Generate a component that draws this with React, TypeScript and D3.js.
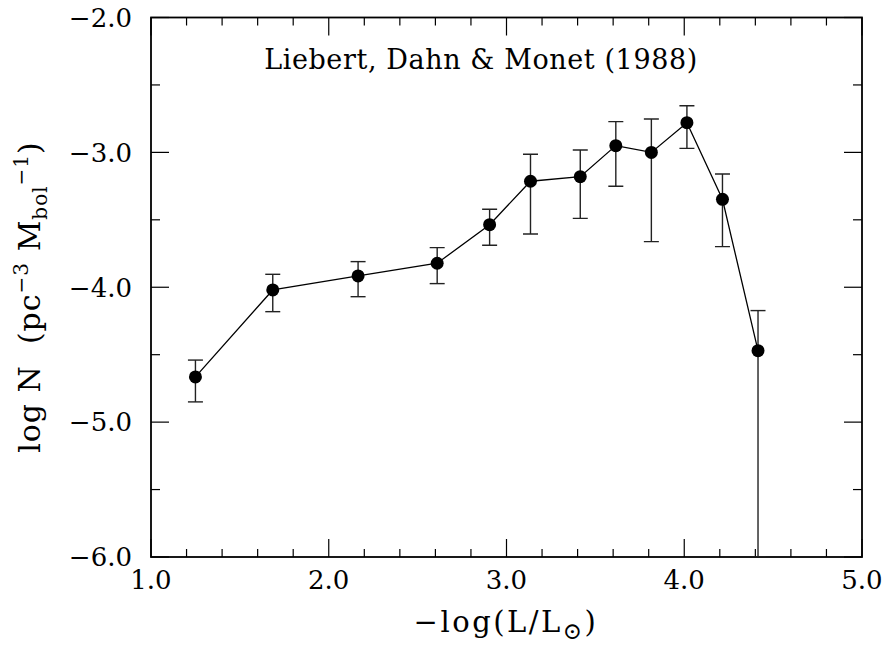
import * as d3 from 'd3';

// -log(L/Lsun) positions of the bins
const logL = [1.25, 1.685, 2.165, 2.61, 2.905, 3.135, 3.415, 3.615, 3.815, 4.015, 4.215, 4.415];
// log N per bin
const logN = [-4.665, -4.02, -3.916, -3.822, -3.536, -3.214, -3.18, -2.95, -3.0, -2.78, -3.348, -4.47];
// upper and lower ends of the error bars
const errHi = [-4.54, -3.904, -3.81, -3.706, -3.422, -3.014, -2.982, -2.772, -2.752, -2.654, -3.16, -4.173];
const errLo = [-4.85, -4.181, -4.07, -3.973, -3.689, -3.605, -3.489, -3.251, -3.662, -2.97, -3.699, -6.0];

const xTicks = [1.0, 2.0, 3.0, 4.0, 5.0];
const yTicks = [-2.0, -3.0, -4.0, -5.0, -6.0];
const title = 'Liebert, Dahn & Monet (1988)';

const W = 883;
const H = 648;
const font = '"DejaVu Serif", serif';

export default function App() {
  const x = d3.scaleLinear().domain([1, 5]).range([151, 862]);
  const y = d3.scaleLinear().domain([-6, -2]).range([557, 17.5]);

  const pts = logL.map((v, i) => ({ x: v, y: logN[i], hi: errHi[i], lo: errLo[i] }));
  const line = d3.line<{ x: number; y: number }>().x(d => x(d.x)).y(d => y(d.y));

  const xMinor = d3.range(1, 5.001, 0.2);
  const yMinor = d3.range(-6, -1.999, 0.5);
  const isMajor = (v: number) => Math.abs(v - Math.round(v)) < 1e-6;
  const fmt = d3.format('.1f');
  const minus = (v: number) => fmt(v).replace('-', '\u2212');

  const [x0, x1] = x.range();
  const [y0, y1] = y.range();
  const cap = 7.5;

  return (
    <svg width={W} height={H} style={{ position: 'absolute', left: 0, top: 0, background: '#fff' }}>
      <rect x={0} y={0} width={W} height={H} fill="#fff" />
      <defs>
        <clipPath id="plot">
          <rect x={x0} y={y1} width={x1 - x0} height={y0 - y1} />
        </clipPath>
      </defs>

      {/* ticks on all four sides */}
      <g stroke="#000" strokeWidth={1.2}>
        {xMinor.map(v => {
          const len = isMajor(v) ? 18 : 8;
          return (
            <g key={'xt' + v}>
              <line x1={x(v)} x2={x(v)} y1={y0} y2={y0 - len} />
              <line x1={x(v)} x2={x(v)} y1={y1} y2={y1 + len} />
            </g>
          );
        })}
        {yMinor.map(v => {
          const len = isMajor(v) ? 18 : 9;
          return (
            <g key={'yt' + v}>
              <line x1={x0} x2={x0 + len} y1={y(v)} y2={y(v)} />
              <line x1={x1} x2={x1 - len} y1={y(v)} y2={y(v)} />
            </g>
          );
        })}
      </g>
      <rect x={x0} y={y1} width={x1 - x0} height={y0 - y1} fill="none" stroke="#000" strokeWidth={1.8} />

      {/* tick labels */}
      <g fontFamily={font} fontSize={26} fill="#000">
        {xTicks.map(v => (
          <text key={'xl' + v} x={x(v)} y={y0 + 32} textAnchor="middle">{fmt(v)}</text>
        ))}
        {yTicks.map(v => (
          <text key={'yl' + v} x={x0 - 19} y={y(v)} dy="0.36em" textAnchor="end">{minus(v)}</text>
        ))}
      </g>

      {/* data */}
      <g clipPath="url(#plot)">
        <g stroke="#222" strokeWidth={1.4}>
          {pts.map((d, i) => (
            <g key={'e' + i}>
              <line x1={x(d.x)} x2={x(d.x)} y1={y(d.hi)} y2={y(d.lo)} />
              <line x1={x(d.x) - cap} x2={x(d.x) + cap} y1={y(d.hi)} y2={y(d.hi)} />
              <line x1={x(d.x) - cap} x2={x(d.x) + cap} y1={y(d.lo)} y2={y(d.lo)} />
            </g>
          ))}
        </g>
        <path d={line(pts) ?? ''} fill="none" stroke="#000" strokeWidth={1.3} />
        {pts.map((d, i) => (
          <circle key={'p' + i} cx={x(d.x)} cy={y(d.y)} r={6.5} fill="#000" />
        ))}
      </g>

      {/* title inside frame */}
      <text x={481} y={69} textAnchor="middle" fontFamily={font} fontSize={27} letterSpacing={0.6} fill="#000">{title}</text>

      {/* x axis label */}
      <text x={506} y={632} textAnchor="middle" fontFamily={font} fontSize={29} letterSpacing={2.5} fill="#000">
        {'\u2212log(L/L'}
        <tspan dy={7} fontSize={23}>{'\u2299'}</tspan>
        <tspan dy={-7}>)</tspan>
      </text>

      {/* y axis label */}
      <text
        transform={`translate(40, 297) rotate(-90)`}
        textAnchor="middle"
        fontFamily={font}
        fontSize={30}
        letterSpacing={1}
        fill="#000"
        style={{ whiteSpace: 'pre' }}
      >
        {'log N  (pc'}
        <tspan dy={-12} fontSize={20}>{'\u22123'}</tspan>
        <tspan dy={12}>{' M'}</tspan>
        <tspan dy={7} fontSize={20}>bol</tspan>
        <tspan dy={-19} fontSize={20}>{'\u22121'}</tspan>
        <tspan dy={12}>)</tspan>
      </text>
    </svg>
  );
}
